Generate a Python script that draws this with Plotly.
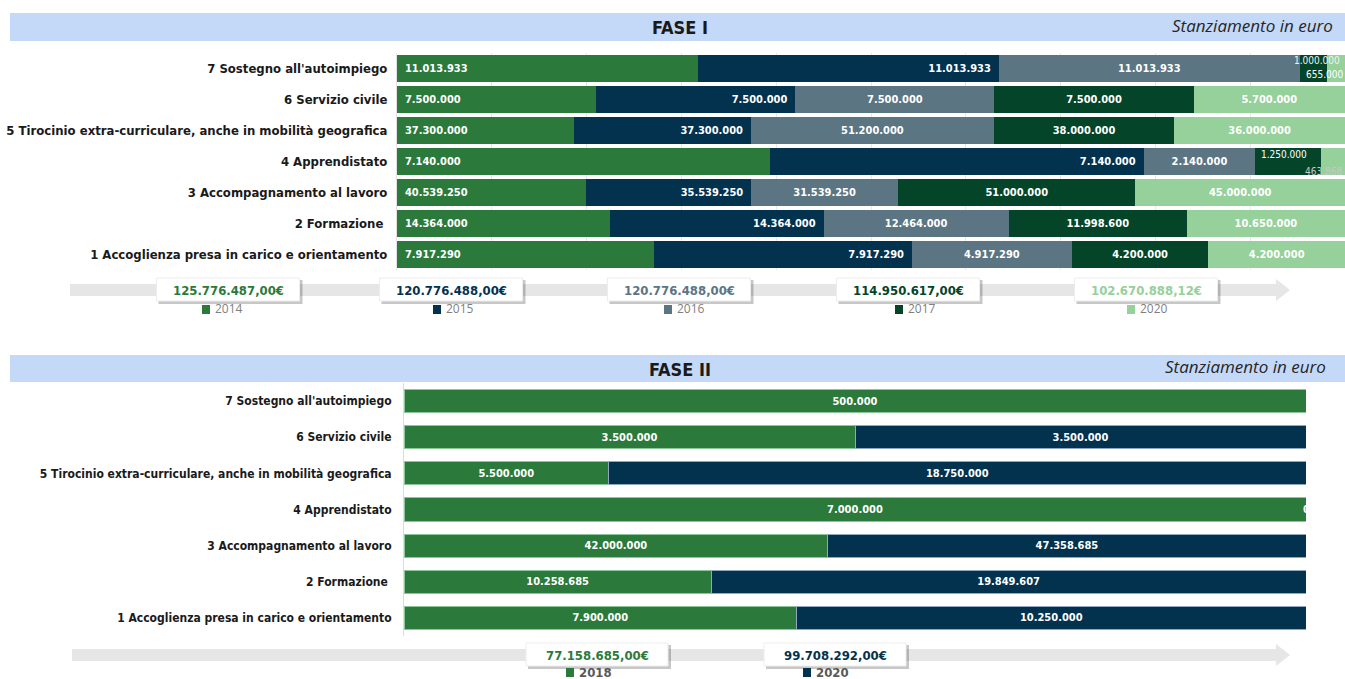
import plotly.graph_objects as go

W, H = 1345, 679

categories = [
    "1 Accoglienza presa in carico e orientamento",
    "2 Formazione ",
    "3 Accompagnamento al lavoro",
    "4 Apprendistato",
    "5 Tirocinio extra-curriculare, anche in mobilità geografica",
    "6 Servizio civile",
    "7 Sostegno all'autoimpiego",
]

# FASE I – allocations in euro, one list per year, rows ordered as categories
fase1_years = ["2014", "2015", "2016", "2017", "2020"]
fase1_2014 = [7917290, 14364000, 40539250, 7140000, 37300000, 7500000, 11013933]
fase1_2015 = [7917290, 14364000, 35539250, 7140000, 37300000, 7500000, 11013933]
fase1_2016 = [4917290, 12464000, 31539250, 2140000, 51200000, 7500000, 11013933]
fase1_2017 = [4200000, 11998600, 51000000, 1250000, 38000000, 7500000, 1000000]
fase1_2020 = [4200000, 10650000, 45000000, 463868, 36000000, 5700000, 655000]
fase1_totals = [125776487.00, 120776488.00, 120776488.00, 114950617.00, 102670888.12]

# FASE II – allocations in euro
fase2_years = ["2018", "2020"]
fase2_2018 = [7900000, 10258685, 42000000, 7000000, 5500000, 3500000, 500000]
fase2_2020 = [10250000, 19849607, 47358685, 0, 18750000, 3500000, None]
fase2_totals = [77158685.00, 99708292.00]

fase1_colors = ["#2b7a3b", "#03324f", "#5b7583", "#04452a", "#96d09b"]
fase2_colors = ["#2b7a3b", "#03324f"]
fase2_lines = ["#8cc79a", "#8fa8c0"]

NARROW = "Liberation Sans Narrow, DejaVu Sans Condensed, Arial Narrow, sans-serif"
ITALIC_FONT = "Open Sans, Lato, sans-serif"


def fmt(v):
    return f"{v:,}".replace(",", ".")


def fmt_eur(v):
    s = f"{v:,.2f}"
    return s.replace(",", "X").replace(".", ",").replace("X", ".") + "€"


def px(x):
    return x / W


def py(y):
    return 1 - y / H


fig = go.Figure()
annotations = []
shapes = []

# ---------- FASE I stacked bars ----------
fase1_series = [fase1_2014, fase1_2015, fase1_2016, fase1_2017, fase1_2020]
row_totals1 = [sum(v[i] for v in fase1_series) for i in range(len(categories))]
SMALL = 0.07  # segments narrower than this share get an outside note

for k, (year, vals) in enumerate(zip(fase1_years, fase1_series)):
    texts = []
    for i, v in enumerate(vals):
        if v / row_totals1[i] < SMALL:
            texts.append("")
        elif k == 0:
            texts.append("\u2002" + fmt(v))
        elif k == 1:
            texts.append(fmt(v) + "\u2002")
        else:
            texts.append(fmt(v))
    anchor = "start" if k == 0 else ("end" if k == 1 else "middle")
    fig.add_trace(go.Bar(
        y=categories, x=vals, orientation="h", name=year,
        marker=dict(color=fase1_colors[k], line=dict(width=0)),
        width=0.88, text=texts, textposition="inside", insidetextanchor=anchor,
        textangle=0, constraintext="none",
        insidetextfont=dict(color="white", size=11, family=NARROW, weight="bold"),
        xaxis="x", yaxis="y", showlegend=False, hoverinfo="skip",
    ))

# notes for the thin segments at the right end of the bars
note_style = {
    (6, 3): dict(at="end_row", xanchor="right", xshift=-3, yshift=8, color="#f2f2f2"),
    (6, 4): dict(at="end_row", xanchor="right", xshift=0, yshift=-6, color="#ffffff"),
    (3, 3): dict(at="start", xanchor="left", xshift=4, yshift=7, color="#ffffff"),
    (3, 4): dict(at="end_row", xanchor="right", xshift=-1, yshift=-10, color="#c8c8c8"),
}
for i in range(len(categories)):
    cum = 0.0
    for k, vals in enumerate(fase1_series):
        share = vals[i] / row_totals1[i]
        if share < SMALL and (i, k) in note_style:
            st = note_style[(i, k)]
            xpos = 100.0 if st["at"] == "end_row" else cum * 100
            annotations.append(dict(
                x=xpos, y=categories[i], xref="x", yref="y", text=fmt(vals[i]),
                showarrow=False, xanchor=st["xanchor"], yanchor="middle",
                xshift=st["xshift"], yshift=st["yshift"],
                font=dict(family=NARROW, size=10, color=st["color"]),
            ))
        cum += share

# ---------- FASE II stacked bars ----------
fase2_series = [fase2_2018, fase2_2020]
for k, (year, vals) in enumerate(zip(fase2_years, fase2_series)):
    texts = [fmt(v) if v else "" for v in vals]
    fig.add_trace(go.Bar(
        y=categories, x=vals, orientation="h", name=year,
        marker=dict(color=fase2_colors[k], line=dict(width=1, color=fase2_lines[k])),
        width=0.64, text=texts, textposition="inside", insidetextanchor="middle",
        textangle=0, constraintext="none",
        insidetextfont=dict(color="white", size=11, family=NARROW, weight="bold"),
        xaxis="x2", yaxis="y2", showlegend=False, hoverinfo="skip",
    ))
# zero-value entry sits at the very end of its row
for i, v in enumerate(fase2_2020):
    if v == 0:
        annotations.append(dict(
            x=100, y=categories[i], xref="x2", yref="y2", text="0", showarrow=False,
            xanchor="center", font=dict(family=NARROW, size=11, color="white", weight="bold"),
        ))

# ---------- header bands ----------
for top, bottom, title, note_right, note_y in [
    (13, 41, "FASE I", 1335, 26),
    (355, 382, "FASE II", 1328, 366),
]:
    shapes.append(dict(type="rect", xref="paper", yref="paper", x0=px(10), x1=px(1345),
                       y0=py(bottom), y1=py(top), fillcolor="#c4d8f7", line=dict(width=0),
                       layer="below"))
    annotations.append(dict(x=px(680), y=py((top + bottom) / 2 + 1), xref="paper", yref="paper",
                            text=title, showarrow=False, xanchor="center", yanchor="middle",
                            font=dict(family=NARROW, size=18, color="#1a1a1a", weight="bold")))
    annotations.append(dict(x=px(note_right), y=py(note_y), xref="paper", yref="paper",
                            text="<i>Stanziamento in euro</i>", showarrow=False,
                            xanchor="right", yanchor="middle",
                            font=dict(family=ITALIC_FONT, size=17, color="#262626")))


# ---------- timelines with totals and year keys ----------
def timeline(x0, x1, yc, centers, key_starts, totals, colors, years, key_y, key_bold, key_color, box_w):
    shapes.append(dict(type="rect", xref="paper", yref="paper", x0=px(x0), x1=px(x1 - 14),
                       y0=py(yc + 6), y1=py(yc - 6), fillcolor="#e6e6e6", line=dict(width=0)))
    shapes.append(dict(type="path", xref="paper", yref="paper",
                       path=f"M {px(x1 - 14)} {py(yc - 11)} L {px(x1)} {py(yc)} L {px(x1 - 14)} {py(yc + 11)} Z",
                       fillcolor="#e6e6e6", line=dict(width=0)))
    for c, kx, tot, col, yr in zip(centers, key_starts, totals, colors, years):
        bx0, bx1 = c - box_w / 2, c + box_w / 2
        by0, by1 = yc - 12, yc + 11
        shapes.append(dict(type="rect", xref="paper", yref="paper", x0=px(bx0 + 2), x1=px(bx1 + 3),
                           y0=py(by1 + 3), y1=py(by0 + 2), fillcolor="rgba(0,0,0,0.22)",
                           line=dict(width=0)))
        shapes.append(dict(type="rect", xref="paper", yref="paper", x0=px(bx0), x1=px(bx1),
                           y0=py(by1), y1=py(by0), fillcolor="white",
                           line=dict(width=1, color="#ededed")))
        annotations.append(dict(x=px(c), y=py(yc), xref="paper", yref="paper", text=fmt_eur(tot),
                                showarrow=False, xanchor="center", yanchor="middle",
                                font=dict(family=NARROW, size=13, color=col, weight="bold")))
        # year key: colour square plus label
        shapes.append(dict(type="rect", xref="paper", yref="paper", x0=px(kx), x1=px(kx + 8),
                           y0=py(key_y + 5), y1=py(key_y - 4), fillcolor=col, line=dict(width=0)))
        annotations.append(dict(x=px(kx + 11), y=py(key_y), xref="paper", yref="paper", text=yr,
                                showarrow=False, xanchor="left", yanchor="middle",
                                font=dict(family=NARROW if key_bold else ITALIC_FONT, size=13 if key_bold else 12,
                                          color=key_color, weight="bold" if key_bold else "normal")))


timeline(70, 1290, 290, [228, 451, 679, 908, 1146], [202, 433, 664, 895, 1127],
         fase1_totals, fase1_colors, fase1_years, 309, False, "#808080", 143)
timeline(72, 1290, 655, [597, 835], [566, 803],
         fase2_totals, fase2_colors, fase2_years, 672, True, "#595959", 142)

fig.update_layout(
    width=W, height=H, margin=dict(l=0, r=0, t=0, b=0),
    paper_bgcolor="white", plot_bgcolor="white",
    barmode="stack", barnorm="percent",
    shapes=shapes, annotations=annotations,
    xaxis=dict(domain=[px(397), 1.0], range=[0, 100], dtick=10, showgrid=True,
               gridcolor="#e9e9e9", gridwidth=1, showticklabels=False, zeroline=False,
               fixedrange=True),
    yaxis=dict(domain=[py(270), py(53)], range=[-0.5, 6.5], type="category",
               tickfont=dict(family=NARROW, size=13, color="#1a1a1a", weight="bold"),
               ticks="outside", ticklen=6, tickcolor="rgba(0,0,0,0)",
               showline=True, linecolor="#e2e2e2", fixedrange=True),
    xaxis2=dict(domain=[px(404), px(1306)], range=[0, 100], showgrid=False,
                showticklabels=False, zeroline=False, anchor="y2", fixedrange=True),
    yaxis2=dict(domain=[py(636), py(383)], range=[-0.5, 6.5], type="category", anchor="x2",
                tickfont=dict(family=NARROW, size=12, color="#1a1a1a", weight="bold"),
                ticks="outside", ticklen=9, tickcolor="rgba(0,0,0,0)",
                showline=True, linecolor="#dcdcdc", fixedrange=True),
)

fig.write_html("out.html")
